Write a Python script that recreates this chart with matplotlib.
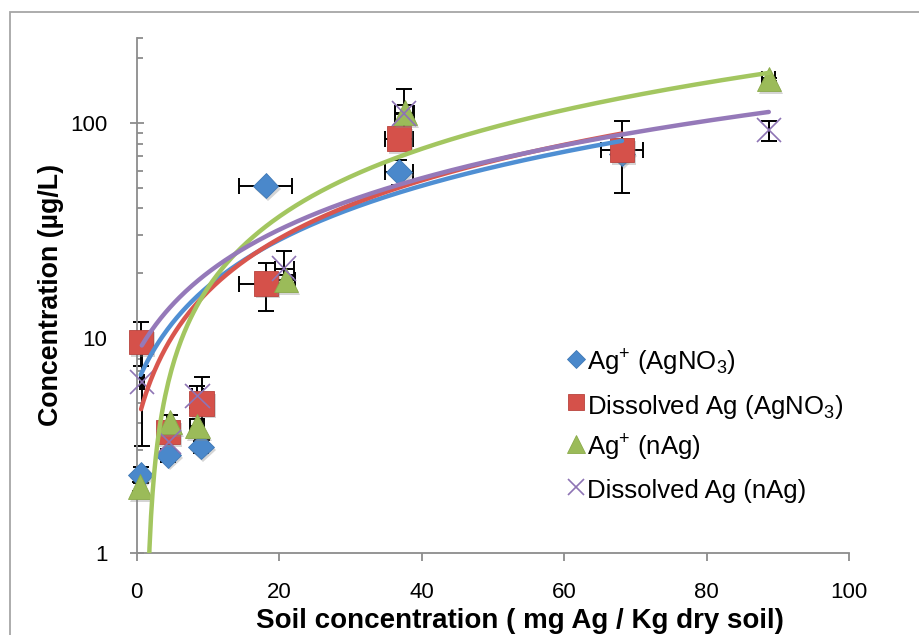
import numpy as np
import matplotlib
matplotlib.use("Agg")
import matplotlib.pyplot as plt
from matplotlib.lines import Line2D
from matplotlib.patches import Rectangle
from matplotlib.ticker import FixedLocator, NullFormatter
import matplotlib.patheffects as pe

plt.rcParams['font.family'] = ['Liberation Sans', 'DejaVu Sans']
plt.rcParams['mathtext.fontset'] = 'custom'
plt.rcParams['mathtext.rm'] = 'Liberation Sans'
plt.rcParams['mathtext.it'] = 'Liberation Sans:italic'
plt.rcParams['mathtext.bf'] = 'Liberation Sans:bold'

# Ag+ measured in AgNO3-spiked soil
agno3_ion_x = [0.55, 4.4, 9.0, 18.1, 36.8, 68.1]
agno3_ion_y = [2.30, 2.85, 3.11, 51.0, 59.2, 72.0]
agno3_ion_xerr = [0.3, 0.4, 0.6, 3.7, 1.9, 0.0]
agno3_ion_yerr = [0.2, 0.2, 0.2, 0.0, 8.0, 0.0]

# Dissolved Ag in AgNO3-spiked soil
agno3_diss_x = [0.6, 4.4, 9.1, 18.1, 36.8, 68.1]
agno3_diss_y = [9.6, 3.65, 4.95, 17.9, 84.6, 74.7]
agno3_diss_xerr = [0.3, 0.4, 1.0, 3.7, 1.9, 2.9]
agno3_diss_yerr = [2.2, 0.3, 1.6, 4.5, 6.0, 27.5]

# Ag+ measured in nAg-spiked soil
nag_ion_x = [0.45, 4.66, 8.5, 20.9, 37.6, 88.7]
nag_ion_y = [2.03, 4.07, 3.90, 18.6, 111.8, 159.7]
nag_ion_xerr = [0.3, 0.4, 1.0, 1.3, 1.3, 0.9]
nag_ion_yerr = [0.1, 0.3, 0.3, 1.0, 10.0, 3.0]

# Dissolved Ag in nAg-spiked soil
nag_diss_x = [0.7, 4.5, 8.5, 20.7, 37.5, 88.7]
nag_diss_y = [6.24, 3.28, 5.35, 21.0, 110.6, 92.5]
nag_diss_xerr = [0.3, 0.4, 0.8, 1.3, 1.3, 0.0]
nag_diss_yerr = [3.1, 0.3, 0.65, 4.4, 34.0, 10.0]

series_labels = [r'Ag$^{+}$ (AgNO$_{3}$)', r'Dissolved Ag (AgNO$_{3}$)',
                 r'Ag$^{+}$ (nAg)', 'Dissolved Ag (nAg)']
x_ticks = [0, 20, 40, 60, 80, 100]
y_major = [1, 10, 100]

W, H = 919, 635
fig = plt.figure(figsize=(W / 100, H / 100), dpi=100)
fig.patch.set_facecolor('white')

# outer chart frame
fig.patches.append(Rectangle((10 / W, -0.5), 2.0, 1 - 12 / H + 0.5,
                             transform=fig.transFigure, fill=False,
                             edgecolor='#A6A6A6', linewidth=1.3))

ax = fig.add_axes([136.8 / W, 1 - 552.7 / H, 712.5 / W, (552.7 - 37.5) / H])
ax.set_facecolor('none')

styles = [
    dict(marker='D', color='#4A88CB', ms=12.9, mec='#3F78B5', mew=0.6),
    dict(marker='s', color='#D5514A', ms=17.5, mec='#B8433D', mew=0.6),
    dict(marker='^', color='#9BBB59', ms=17.5, mec='#8AAA4A', mew=0.6),
    dict(marker='x', color='#8E74B4', ms=17.5, mec='#8E74B4', mew=1.2),
]
line_colors = ['#4F8FD3', '#D9564E', '#A3C660', '#9579B9']

data = [
    (agno3_ion_x, agno3_ion_y, agno3_ion_xerr, agno3_ion_yerr),
    (agno3_diss_x, agno3_diss_y, agno3_diss_xerr, agno3_diss_yerr),
    (nag_ion_x, nag_ion_y, nag_ion_xerr, nag_ion_yerr),
    (nag_diss_x, nag_diss_y, nag_diss_xerr, nag_diss_yerr),
]

shadow = [pe.SimplePatchShadow(offset=(1.5, -2), shadow_rgbFace='#888888', alpha=0.35),
          pe.Normal()]

ax.set_yscale('log', nonpositive='mask')

for (x, y, xe, ye), st in zip(data, styles):
    eb = ax.errorbar(x, y, xerr=xe, yerr=ye, fmt='none', ecolor='black',
                     elinewidth=1.4, capsize=5.5, capthick=1.4, zorder=2)
    for art in eb.lines[1] + eb.lines[2]:
        art.set_clip_on(False)
for (x, y, xe, ye), st in zip(data, styles):
    ax.plot(x, y, ls='none', marker=st['marker'], color=st['color'],
            markersize=st['ms'], markeredgecolor=st['mec'],
            markeredgewidth=st['mew'], zorder=3, path_effects=shadow,
            clip_on=False)

# linear least-squares trend lines
for (x, y, xe, ye), c in zip(data, line_colors):
    coef = np.polyfit(x, y, 1)
    xs = np.linspace(min(x), max(x), 400)
    ax.plot(xs, np.polyval(coef, xs), color=c, lw=3.2,
            solid_capstyle='round', zorder=4)

ax.set_xlim(0, 100)
ax.set_ylim(1, 250)
ax.set_xticks(x_ticks)
ax.set_xticklabels([str(t) for t in x_ticks])
ax.yaxis.set_major_locator(FixedLocator(y_major))
ax.set_yticklabels([str(t) for t in y_major])
minor = [m * d for d in (1, 10) for m in range(2, 10)] + [200, 250]
ax.yaxis.set_minor_locator(FixedLocator(minor))
ax.yaxis.set_minor_formatter(NullFormatter())

axis_gray = '#8C8C8C'
for side in ('top', 'right'):
    ax.spines[side].set_visible(False)
for side in ('left', 'bottom'):
    ax.spines[side].set_color(axis_gray)
    ax.spines[side].set_linewidth(1.3)

ax.tick_params(axis='x', which='major', direction='out', length=5.8,
               width=1.3, color=axis_gray, labelsize=16, pad=15)
ax.tick_params(axis='y', which='major', direction='inout', length=10.5,
               width=1.3, color=axis_gray, labelsize=16, pad=16)
ax.tick_params(axis='y', which='minor', direction='in', length=4.4,
               width=1.3, color=axis_gray)

ax.set_xlabel('Soil concentration ( mg Ag / Kg dry soil)', fontsize=20,
              fontweight='bold')
ax.xaxis.label.set_va('center')
ax.xaxis.set_label_coords((520 - 136.8) / 712.5, (552.7 - 621) / 515.2)
ax.set_ylabel('Concentration (\u00b5g/L)', fontsize=19.3, fontweight='bold')
ax.yaxis.label.set_va('center')
ax.yaxis.set_label_coords((51 - 136.8) / 712.5, 0.5)

handles = []
leg_ms = [9.0, 12.0, 12.5, 12.0]
for st, ms, lab in zip(styles, leg_ms, series_labels):
    handles.append(Line2D([], [], ls='none', marker=st['marker'],
                          color=st['color'], markersize=ms,
                          markeredgecolor=st['mec'],
                          markeredgewidth=st['mew'], label=lab))
leg = ax.legend(handles=handles, loc='upper left',
                bbox_to_anchor=(567.5 / W, 1 - 348 / H),
                bbox_transform=fig.transFigure, frameon=False,
                fontsize=18.5, handlelength=0.66, handletextpad=0.1,
                handleheight=1.35, labelspacing=0.47, borderpad=0,
                borderaxespad=0)

fig.savefig('out.png', dpi=100, facecolor='white')
